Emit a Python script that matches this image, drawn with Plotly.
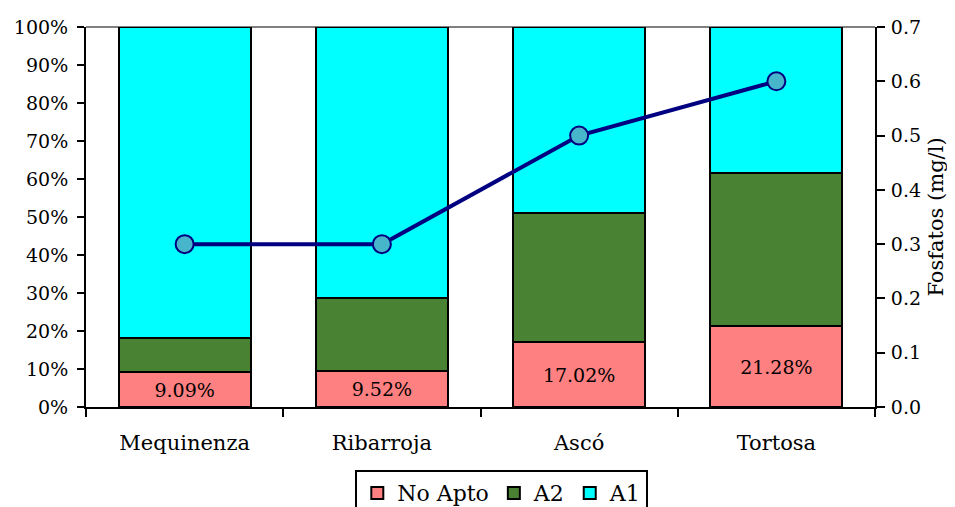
import plotly.graph_objects as go

# ---- data ----
estaciones = ["Mequinenza", "Ribarroja", "Ascó", "Tortosa"]
no_apto = [9.09, 9.52, 17.02, 21.28]          # % de muestras
a2 = [9.09, 19.05, 34.04, 40.43]              # %
a1 = [81.82, 71.43, 48.94, 38.29]             # %
fosfatos = [0.3, 0.3, 0.5, 0.6]               # mg/l

FONT = "DejaVu Serif"

fig = go.Figure()

fig.add_trace(go.Bar(
    x=estaciones, y=no_apto, name="No Apto",
    marker=dict(color="#FF8080", line=dict(color="black", width=2)),
    text=[f"{v:.2f}%" for v in no_apto], textposition="inside",
    insidetextanchor="middle", textangle=0, constraintext="none",
    textfont=dict(family=FONT, size=19, color="black"),
))
fig.add_trace(go.Bar(
    x=estaciones, y=a2, name="A2",
    marker=dict(color="#4A8234", line=dict(color="black", width=2)),
))
fig.add_trace(go.Bar(
    x=estaciones, y=a1, name="A1",
    marker=dict(color="#00FFFF", line=dict(color="black", width=2)),
))

# fosfatos en eje secundario
fig.add_trace(go.Scatter(
    x=estaciones, y=fosfatos, yaxis="y2", mode="lines+markers",
    line=dict(color="#000080", width=4),
    marker=dict(size=18, color="#48B6CA", line=dict(color="#000080", width=2)),
    showlegend=False,
))

# la página añade 8 px de margen al body: se compensa aquí
fig.update_layout(
    width=955, height=507,
    margin=dict(l=78, r=88, t=19, b=108, autoexpand=False),
    barmode="stack", bargap=0.33,
    paper_bgcolor="white", plot_bgcolor="white",
    font=dict(family=FONT, size=19, color="black"),
    xaxis=dict(
        showline=True, linecolor="black", linewidth=2,
        ticks="outside", ticklen=8, tickwidth=2, tickcolor="black",
        tickson="boundaries", tickfont=dict(size=21),
        ticklabelstandoff=16, automargin=False,
    ),
    yaxis=dict(
        range=[0, 100], dtick=10, ticksuffix="%", showgrid=False,
        showline=True, linecolor="black", linewidth=2,
        ticks="outside", ticklen=7, tickwidth=2, tickcolor="black",
        zeroline=False, tickfont=dict(size=19),
        ticklabelstandoff=5, automargin=False,
    ),
    yaxis2=dict(
        overlaying="y", side="right", range=[0, 0.7], dtick=0.1,
        tickformat=".1f", showgrid=False, zeroline=False,
        showline=True, linecolor="black", linewidth=2,
        ticks="outside", ticklen=8, tickwidth=2, tickcolor="black",
        tickfont=dict(size=19), ticklabelstandoff=2, automargin=False,
        title=dict(text="Fosfatos (mg/l)", font=dict(size=21), standoff=8),
    ),
    legend=dict(
        orientation="h", x=0.527, xanchor="center", y=-0.166, yanchor="top",
        bordercolor="black", borderwidth=2, font=dict(size=22),
        traceorder="normal", itemwidth=30,
    ),
    shapes=[dict(type="line", xref="paper", yref="paper", x0=0, x1=1, y0=1, y1=1,
                 line=dict(color="#808080", width=2), layer="below")],
)

fig.write_html("out.html")
